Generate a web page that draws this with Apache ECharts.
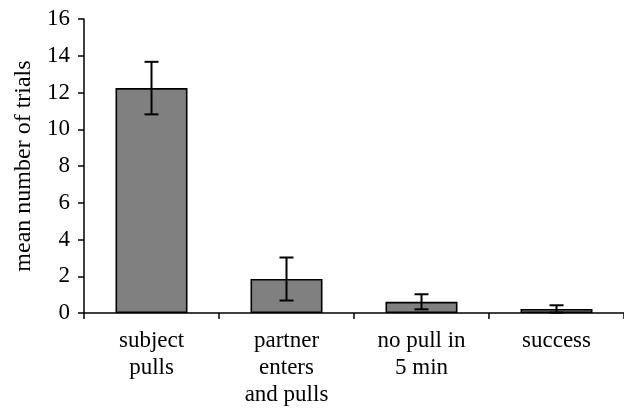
<!DOCTYPE html>
<html>
<head>
<meta charset="utf-8">
<script src="https://cdn.jsdelivr.net/npm/echarts@6/dist/echarts.min.js"></script>
<style>html,body{margin:0;padding:0;background:#fff}#c{width:624px;height:408px}</style>
</head>
<body>
<div id="c"></div>
<script>
const categories = ['subject\npulls', 'partner\nenters\nand pulls', 'no pull in\n5 min', 'success'];
const means = [12.24, 1.85, 0.61, 0.22];
const errors = [1.43, 1.17, 0.41, 0.2];
const yTicks = [0, 2, 4, 6, 8, 10, 12, 14, 16];

const font = 'Liberation Serif';
const chart = echarts.init(document.getElementById('c'), null, {renderer: 'canvas'});
const errData = means.map((m, i) => [i, m - errors[i], m + errors[i]]);

chart.setOption({
  animation: false,
  grid: {left: 84, right: 0, top: 19, bottom: 94, containLabel: false},
  xAxis: {
    type: 'category',
    data: categories,
    boundaryGap: true,
    axisLine: {lineStyle: {color: '#000', width: 1.5}},
    axisTick: {show: true, length: 6, alignWithLabel: false, lineStyle: {color: '#000', width: 1.5}},
    axisLabel: {color: '#000', fontFamily: font, fontSize: 23, lineHeight: 27, margin: 14, interval: 0}
  },
  yAxis: {
    type: 'value',
    min: yTicks[0], max: yTicks[yTicks.length - 1], interval: 2,
    name: 'mean number of trials',
    nameLocation: 'middle',
    nameGap: 47,
    nameTextStyle: {color: '#000', fontFamily: font, fontSize: 24},
    axisLine: {show: true, lineStyle: {color: '#000', width: 1.5}},
    axisTick: {show: true, length: 6, lineStyle: {color: '#000', width: 1.5}},
    splitLine: {show: false},
    axisLabel: {color: '#000', fontFamily: font, fontSize: 23, margin: 14}
  },
  series: [
    {
      type: 'bar',
      data: means,
      barWidth: 72,
      itemStyle: {color: '#808080', borderColor: '#000', borderWidth: 1.6}
    },
    {
      type: 'custom',
      data: errData,
      z: 10,
      renderItem: function (params, api) {
        const x = api.value(0);
        const lo = api.coord([x, api.value(1)]);
        const hi = api.coord([x, api.value(2)]);
        const hw = 7;
        const style = {stroke: '#000', lineWidth: 2, fill: null};
        return {
          type: 'group',
          children: [
            {type: 'line', shape: {x1: lo[0], y1: lo[1], x2: hi[0], y2: hi[1]}, style: style},
            {type: 'line', shape: {x1: hi[0] - hw, y1: hi[1], x2: hi[0] + hw, y2: hi[1]}, style: style},
            {type: 'line', shape: {x1: lo[0] - hw, y1: lo[1], x2: lo[0] + hw, y2: lo[1]}, style: style}
          ]
        };
      }
    }
  ]
});
</script>
</body>
</html>
